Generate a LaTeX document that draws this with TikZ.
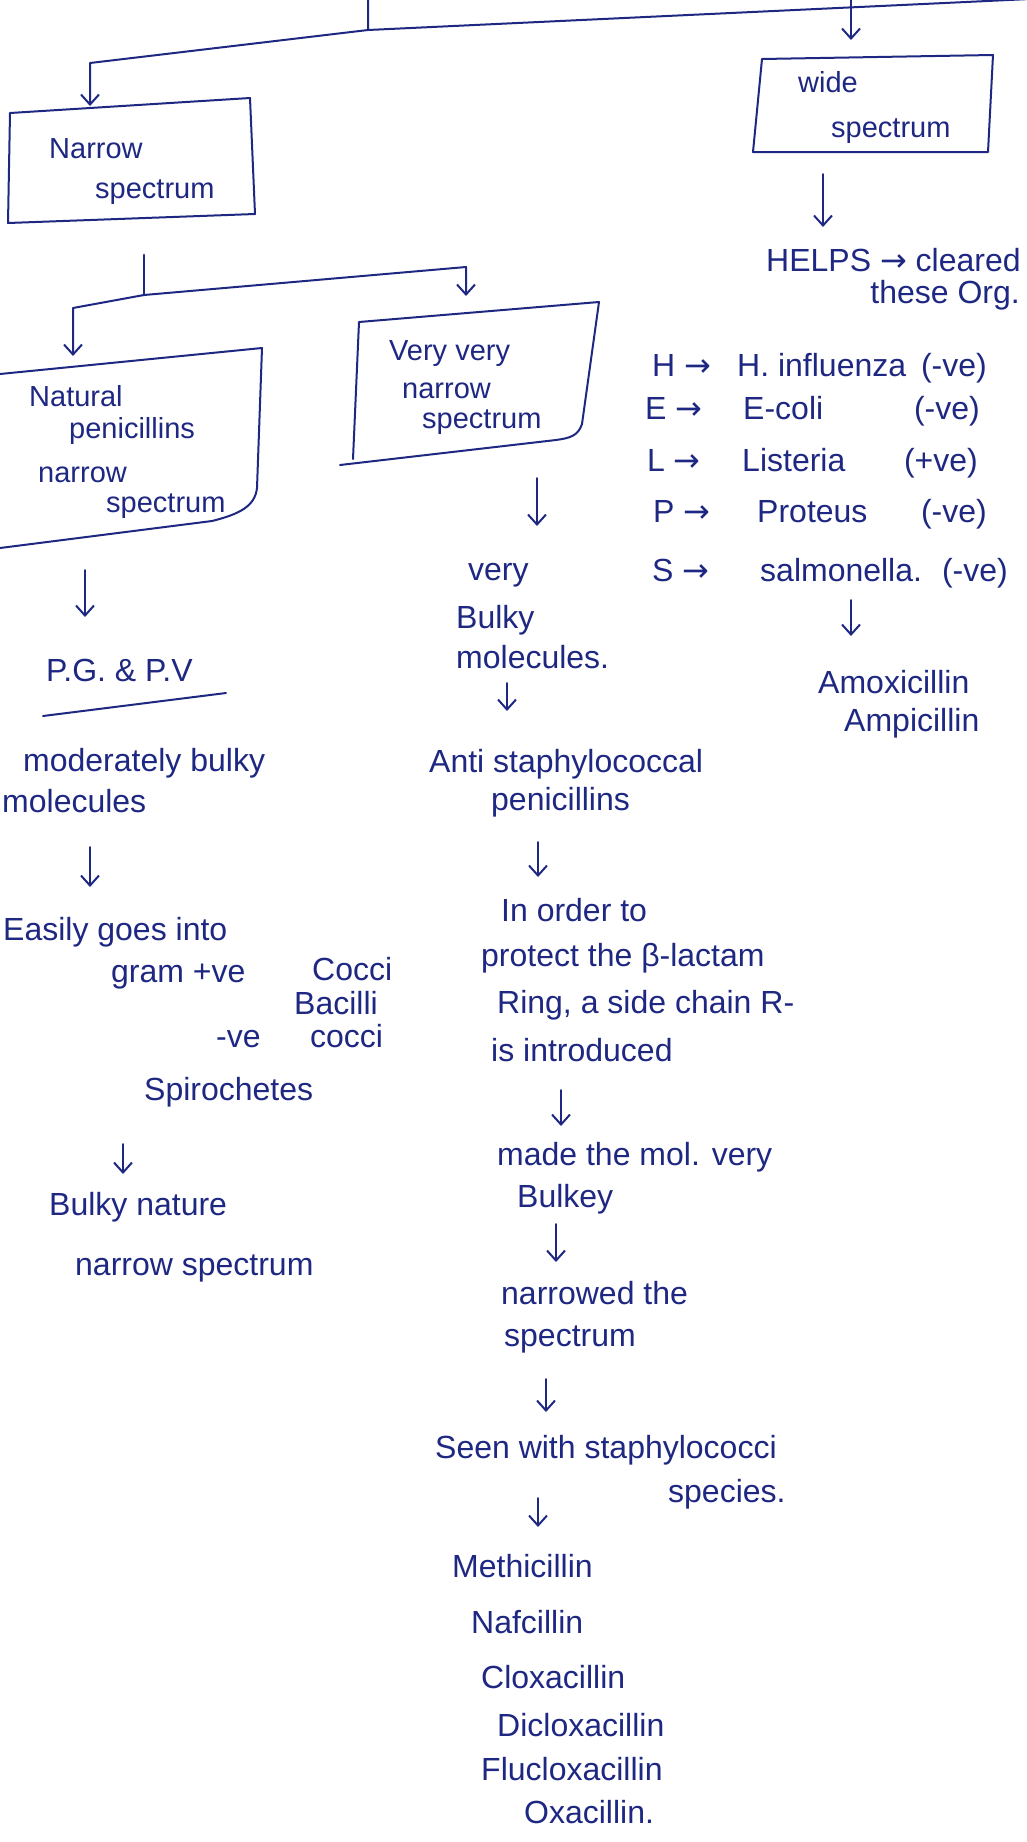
\documentclass[tikz,border=0pt]{standalone}
\usepackage{fontspec}
\setmainfont{Liberation Sans}
\newfontfamily\symf{DejaVu Sans}
\usetikzlibrary{arrows.meta}
\definecolor{ink}{RGB}{30,40,130}
\begin{document}
\begin{tikzpicture}[x=1pt,y=-1pt,
  every node/.style={inner sep=0pt, text=ink, font=\fontsize{32}{36}\selectfont, anchor=base west},
  boxtxt/.style={font=\fontsize{29}{33}\selectfont},
  ink line/.style={draw=ink, line width=2pt, line cap=round, line join=round},
  arr/.style={ink line, -{Straight Barb[length=10pt,width=18pt,line width=2pt]}}]
\useasboundingbox (0,0) rectangle (1026,1842);
\fill[white] (0,0) rectangle (1026,1842);

% ---------- top splitting lines ----------
\coordinate (t0) at (368,0);
\coordinate (tj) at (368,30);
\coordinate (tr) at (1030,-1);
\coordinate (tl) at (90,63);
\coordinate (tld) at (90,106);
\coordinate (w0) at (851,0);
\coordinate (w1) at (851,40);
\draw[ink line] (t0) -- (tj) -- (tr);
\draw[arr] (tj) -- (tl) -- (tld);
\draw[arr] (w0) -- (w1);

% ---------- Narrow spectrum box ----------
\coordinate (nb1) at (10,113); \coordinate (nb2) at (250,98);
\coordinate (nb3) at (255,214); \coordinate (nb4) at (8,223);
\draw[ink line] (nb1) -- (nb2) -- (nb3) -- (nb4) -- cycle;
\node[boxtxt] (narrow1) at (49,158) {Narrow};
\node[boxtxt] (narrow2) at (95,198) {spectrum};

% ---------- Wide spectrum box ----------
\coordinate (wb1) at (762,59); \coordinate (wb2) at (993,55);
\coordinate (wb3) at (988,152); \coordinate (wb4) at (753,152);
\draw[ink line] (wb1) -- (wb2) -- (wb3) -- (wb4) -- cycle;
\node[boxtxt] (wide1) at (798,92) {wide};
\node[boxtxt] (wide2) at (831,137) {spectrum};

% ---------- Wide column ----------
\coordinate (wa0) at (823,174); \coordinate (wa1) at (823,227);
\draw[arr] (wa0) -- (wa1);
\node (helps) at (766,271) {HELPS {\symf →} cleared};
\node[anchor=base east] (org) at (1020,303) {these Org.};

\node (hL) at (652,376) {H {\symf →}};
\node (hN) at (737,376) {H. influenza};
\node[anchor=base east] (hS) at (987,376) {(-ve)};
\node (eL) at (645,419) {E {\symf →}};
\node (eN) at (743,419) {E-coli};
\node[anchor=base east] (eS) at (980,419) {(-ve)};
\node (lL) at (647,471) {L {\symf →}};
\node (lN) at (742,471) {Listeria};
\node[anchor=base east] (lS) at (978,471) {(+ve)};
\node (pL) at (653,522) {P {\symf →}};
\node (pN) at (757,522) {Proteus};
\node[anchor=base east] (pS) at (987,522) {(-ve)};
\node (sL) at (652,581) {S {\symf →}};
\node (sN) at (760,581) {salmonella.};
\node[anchor=base east] (sS) at (1008,581) {(-ve)};

\coordinate (ra0) at (851,600); \coordinate (ra1) at (851,636);
\draw[arr] (ra0) -- (ra1);
\node (amox) at (818,693) {Amoxicillin};
\node (ampi) at (844,731) {Ampicillin};

% ---------- split under Narrow spectrum ----------
\coordinate (s0) at (144,255); \coordinate (sj) at (144,295);
\coordinate (sr) at (466,267); \coordinate (srd) at (466,296);
\coordinate (sl) at (73,308); \coordinate (sld) at (73,356);
\draw[ink line, line width=2.6pt] (s0) -- (sj);
\draw[arr] (sj) -- (sr) -- (srd);
\draw[arr] (sj) -- (sl) -- (sld);

% ---------- Natural penicillins box ----------
\coordinate (pb1) at (0,374); \coordinate (pb2) at (262,348);
\coordinate (pb3) at (257,488); \coordinate (pb4) at (0,548);
\draw[ink line] (pb1) -- (pb2) -- (pb3) .. controls (255,506) and (240,514) .. (212,521) -- (pb4);
\node[boxtxt] (nat1) at (29,406) {Natural};
\node[boxtxt] (nat2) at (69,438) {penicillins};
\node[boxtxt] (nat3) at (38,482) {narrow};
\node[boxtxt] (nat4) at (106,512) {spectrum};

% ---------- Very very narrow spectrum box ----------
\coordinate (vb1) at (359,322); \coordinate (vb2) at (599,302);
\coordinate (vb3) at (582,424); \coordinate (vb4) at (340,465);
\coordinate (vb5) at (353,459);
\draw[ink line] (vb5) -- (vb1) -- (vb2) -- (vb3) .. controls (578,436) and (570,438) .. (556,440) -- (vb4);
\node[boxtxt] (vv1) at (389,360) {Very very};
\node[boxtxt] (vv2) at (402,398) {narrow};
\node[boxtxt] (vv3) at (422,428) {spectrum};

% ---------- Left column ----------
\coordinate (la0) at (85,570); \coordinate (la1) at (85,617);
\draw[arr] (la0) -- (la1);
\node (pgpv) at (46,681) {P.G. \& P.V};
\coordinate (ul0) at (43,716); \coordinate (ul1) at (226,693);
\draw[ink line] (ul0) -- (ul1);
\node (mod1) at (23,771) {moderately bulky};
\node (mod2) at (2,812) {molecules};
\coordinate (lb0) at (90,847); \coordinate (lb1) at (90,887);
\draw[arr] (lb0) -- (lb1);
\node (eas1) at (3,940) {Easily goes into};
\node (eas2) at (111,982) {gram +ve};
\node (eas3) at (312,980) {Cocci};
\node (eas4) at (294,1014) {Bacilli};
\node (eas5) at (216,1047) {-ve};
\node (eas6) at (310,1047) {cocci};
\node (eas7) at (144,1100) {Spirochetes};
\coordinate (lc0) at (123,1144); \coordinate (lc1) at (123,1174);
\draw[arr] (lc0) -- (lc1);
\node (bn1) at (49,1215) {Bulky nature};
\node (bn2) at (75,1275) {narrow spectrum};

% ---------- Middle column ----------
\coordinate (ma0) at (537,478); \coordinate (ma1) at (537,526);
\draw[arr] (ma0) -- (ma1);
\node (vb1t) at (468,580) {very};
\node (vb2t) at (456,628) {Bulky};
\node (vb3t) at (456,668) {molecules.};
\coordinate (mb0) at (507,683); \coordinate (mb1) at (507,711);
\draw[arr] (mb0) -- (mb1);
\node (anti1) at (429,772) {Anti staphylococcal};
\node (anti2) at (491,810) {penicillins};
\coordinate (mc0) at (538,842); \coordinate (mc1) at (538,877);
\draw[arr] (mc0) -- (mc1);
\node (ord1) at (501,921) {In order to};
\node (ord2) at (481,966) {protect the β-lactam};
\node (ord3) at (497,1013) {Ring, a side chain R-};
\node (ord4) at (491,1061) {is introduced};
\coordinate (md0) at (561,1090); \coordinate (md1) at (561,1126);
\draw[arr] (md0) -- (md1);
\node (mad1) at (497,1165) {made the mol. very};
\node (mad2) at (517,1207) {Bulkey};
\coordinate (me0) at (556,1224); \coordinate (me1) at (556,1262);
\draw[arr] (me0) -- (me1);
\node (nar1) at (501,1304) {narrowed the};
\node (nar2) at (504,1346) {spectrum};
\coordinate (mf0) at (546,1379); \coordinate (mf1) at (546,1412);
\draw[arr] (mf0) -- (mf1);
\node (seen1) at (435,1458) {Seen with staphylococci};
\node (seen2) at (668,1502) {species.};
\coordinate (mg0) at (538,1498); \coordinate (mg1) at (538,1527);
\draw[arr] (mg0) -- (mg1);
\node (drug1) at (452,1577) {Methicillin};
\node (drug2) at (471,1633) {Nafcillin};
\node (drug3) at (481,1688) {Cloxacillin};
\node (drug4) at (497,1736) {Dicloxacillin};
\node (drug5) at (481,1780) {Flucloxacillin};
\node (drug6) at (524,1823) {Oxacillin.};
\end{tikzpicture}
\end{document}
